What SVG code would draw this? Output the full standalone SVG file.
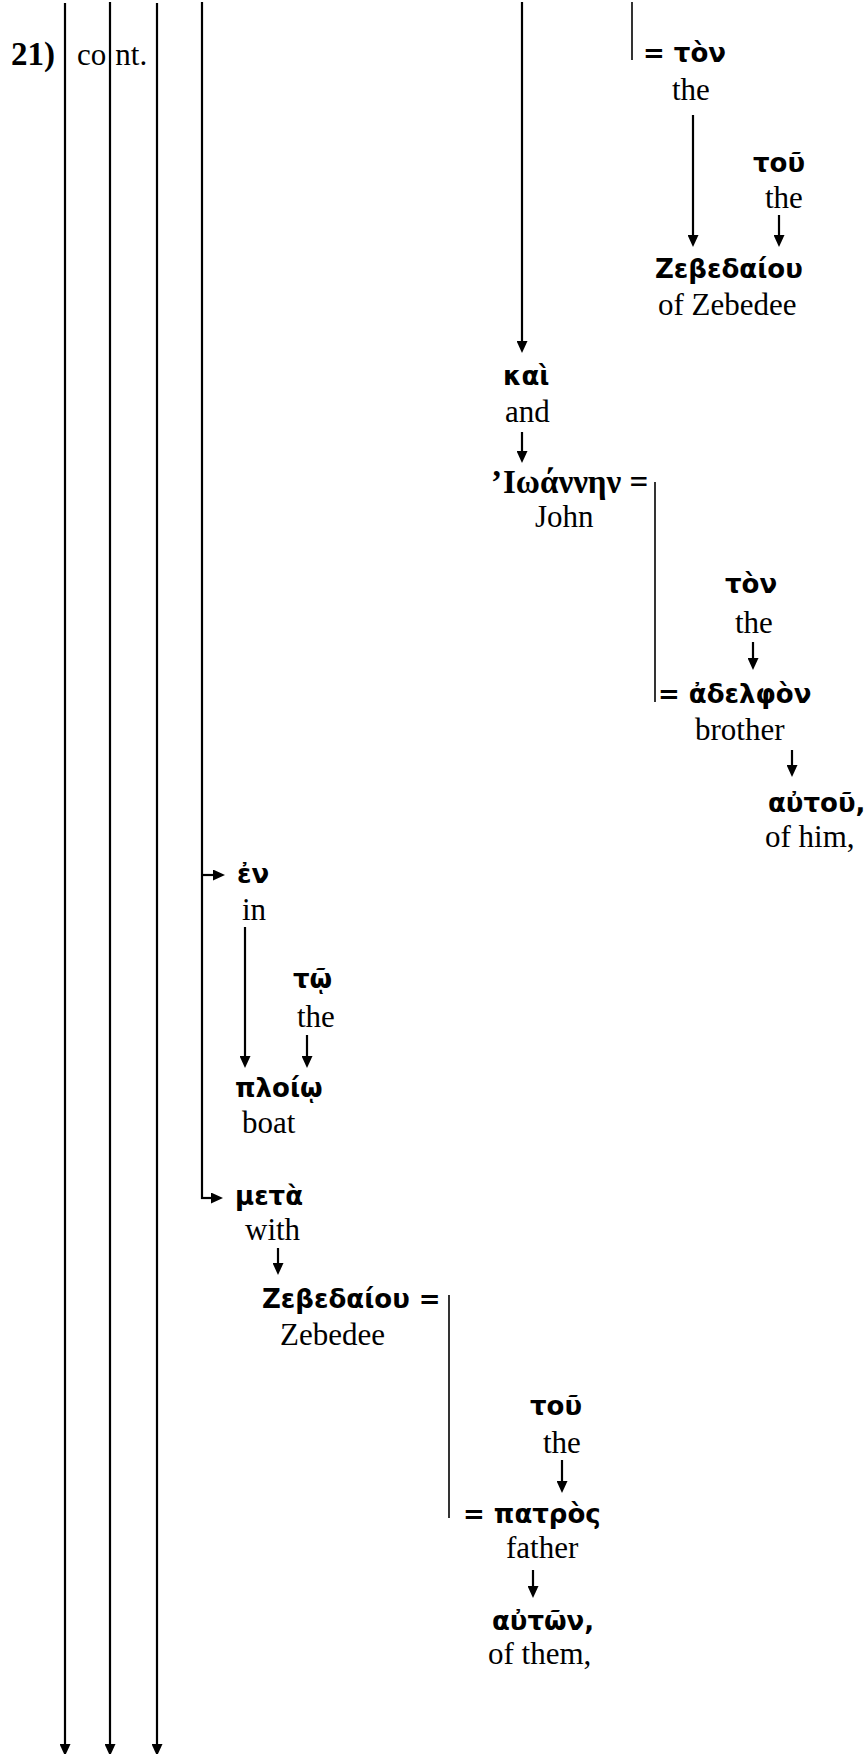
<svg xmlns="http://www.w3.org/2000/svg" width="865" height="1754" viewBox="0 0 865 1754">
  <style>
    .gk { font-family: "DejaVu Sans", "Noto Sans", sans-serif; font-weight: bold; font-size: 26px; fill: #000; }
    .en { font-family: "Liberation Serif", "Times New Roman", serif; font-size: 31px; fill: #000; }
    .bd { font-weight: bold; font-size: 33px; }
    .ln { stroke: #000; stroke-width: 2.2; fill: none; }
    .br { stroke: #000; stroke-width: 1.6; fill: none; }
    .ar { stroke: #000; stroke-width: 2.2; fill: none; marker-end: url(#head); }
  </style>
  <defs>
    <marker id="head" markerUnits="userSpaceOnUse" markerWidth="12" markerHeight="11" refX="1" refY="5.5" orient="auto">
      <path d="M0,0 L12,5.5 L0,11 z" fill="#000"/>
    </marker>
  </defs>
  <rect width="865" height="1754" fill="#fff"/>

  <!-- connectors -->
  <g id="connectors">
    <!-- main clause lines running off the bottom -->
    <line class="ar" x1="65" y1="3" x2="65" y2="1745"/>
    <line class="ar" x1="110" y1="2" x2="110" y2="1745"/>
    <line class="ar" x1="157" y1="3" x2="157" y2="1745"/>
    <!-- prepositional branch line -->
    <line class="ln" x1="202" y1="2" x2="202" y2="1199"/>
    <line class="ar" x1="201" y1="875" x2="214" y2="875"/>
    <line class="ar" x1="201" y1="1198" x2="212" y2="1198"/>
    <!-- object chain -->
    <line class="ar" x1="522" y1="2" x2="522" y2="342"/>
    <line class="br" x1="632" y1="2" x2="632" y2="60"/>
    <line class="ar" x1="693" y1="115" x2="693" y2="236"/>
    <line class="ar" x1="779" y1="215" x2="779" y2="236"/>
    <line class="ar" x1="522" y1="432" x2="522" y2="452"/>
    <line class="br" x1="655" y1="482" x2="655" y2="702"/>
    <line class="ar" x1="753" y1="642" x2="753" y2="659"/>
    <line class="ar" x1="792" y1="750" x2="792" y2="766"/>
    <!-- "in the boat" -->
    <line class="ar" x1="245" y1="927" x2="245" y2="1057"/>
    <line class="ar" x1="307" y1="1035" x2="307" y2="1057"/>
    <!-- "with Zebedee" -->
    <line class="ar" x1="278" y1="1248" x2="278" y2="1264"/>
    <line class="br" x1="449" y1="1295" x2="449" y2="1518"/>
    <line class="ar" x1="562" y1="1460" x2="562" y2="1482"/>
    <line class="ar" x1="533" y1="1570" x2="533" y2="1587"/>
  </g>

  <g id="label">
    <text class="en bd" x="11" y="65">21)</text>
    <text class="en" x="77" y="65">co<tspan dx="9">nt.</tspan></text>
  </g>

  <g id="ton1">
    <text class="gk" x="643" y="62">= τὸν</text>
    <text class="en" x="672" y="100">the</text>
  </g>
  <g id="tou1">
    <text class="gk" x="753" y="172">τοῦ</text>
    <text class="en" x="765" y="208">the</text>
  </g>
  <g id="zebedaiou1">
    <text class="gk" x="655" y="278">Ζεβεδαίου</text>
    <text class="en" x="658" y="315">of Zebedee</text>
  </g>
  <g id="kai">
    <text class="gk" x="503" y="385">καὶ</text>
    <text class="en" x="505" y="422">and</text>
  </g>
  <g id="ioannen">
    <text class="en bd" x="491" y="493">’<tspan x="503">Ιωάννην =</tspan></text>
    <text class="en" x="535" y="527">John</text>
  </g>
  <g id="ton2">
    <text class="gk" x="725" y="593">τὸν</text>
    <text class="en" x="735" y="633">the</text>
  </g>
  <g id="adelphon">
    <text class="gk" x="658" y="703">= ἀδελφὸν</text>
    <text class="en" x="695" y="740">brother</text>
  </g>
  <g id="autou">
    <text class="gk" x="768" y="812">αὐτοῦ,</text>
    <text class="en" x="765" y="847">of him,</text>
  </g>
  <g id="en">
    <text class="gk" x="237" y="883">ἐν</text>
    <text class="en" x="242" y="920">in</text>
  </g>
  <g id="to">
    <text class="gk" x="293" y="988">τῷ</text>
    <text class="en" x="297" y="1027">the</text>
  </g>
  <g id="ploio">
    <text class="gk" x="235" y="1097">πλοίῳ</text>
    <text class="en" x="242" y="1133">boat</text>
  </g>
  <g id="meta">
    <text class="gk" x="235" y="1205">μετὰ</text>
    <text class="en" x="245" y="1240">with</text>
  </g>
  <g id="zebedaiou2">
    <text class="gk" x="262" y="1308">Ζεβεδαίου =</text>
    <text class="en" x="280" y="1345">Zebedee</text>
  </g>
  <g id="tou2">
    <text class="gk" x="530" y="1415">τοῦ</text>
    <text class="en" x="543" y="1453">the</text>
  </g>
  <g id="patros">
    <text class="gk" x="463" y="1523">= πατρὸς</text>
    <text class="en" x="506" y="1558">father</text>
  </g>
  <g id="auton">
    <text class="gk" x="492" y="1630">αὐτῶν,</text>
    <text class="en" x="488" y="1664">of them,</text>
  </g>
</svg>
